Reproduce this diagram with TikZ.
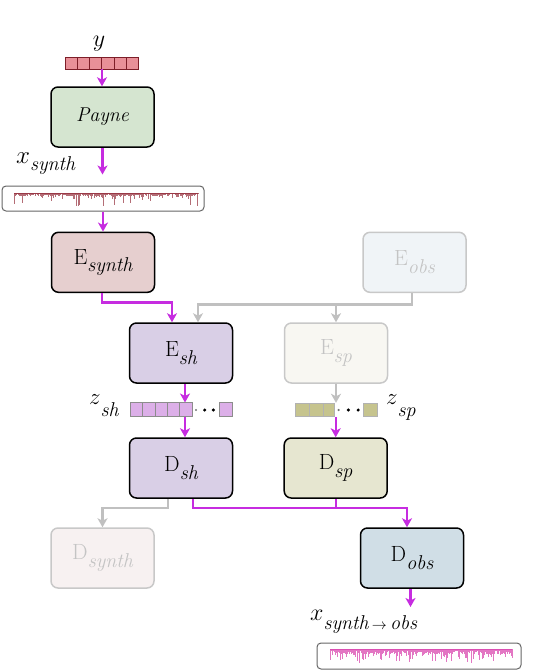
\documentclass[tikz,border=0pt]{standalone}
\usepackage{fix-cm}
\usepackage{fontspec}
\usetikzlibrary{arrows.meta,calc}
\definecolor{mag}{RGB}{198,44,224}
\definecolor{gline}{RGB}{192,192,192}
\definecolor{fadeline}{RGB}{200,200,200}
\definecolor{fadetext}{RGB}{196,196,196}
\definecolor{paynec}{RGB}{213,229,208}
\definecolor{esynthc}{RGB}{230,207,207}
\definecolor{shc}{RGB}{217,207,230}
\definecolor{dspc}{RGB}{230,230,208}
\definecolor{dobsc}{RGB}{208,222,230}
\definecolor{eobsc}{RGB}{240,244,247}
\definecolor{espc}{RGB}{248,247,242}
\definecolor{dsynthc}{RGB}{247,241,241}
\definecolor{ycellc}{RGB}{232,144,152}
\definecolor{ycelll}{RGB}{125,30,40}
\definecolor{zshc}{RGB}{220,175,232}
\definecolor{zspc}{RGB}{198,196,142}
\definecolor{spec1c}{RGB}{140,30,45}
\definecolor{spec2c}{RGB}{215,60,170}
\newcommand{\boxlab}[2]{#1\raisebox{-7.5pt}{\fontsize{20}{20}\selectfont\itshape #2}}
\newcommand{\varlab}[4]{{\fontsize{#1}{#1}\selectfont$#2$}\raisebox{-#4pt}{\fontsize{20}{20}\selectfont\itshape #3}}
\begin{document}
\begin{tikzpicture}[x=1pt,y=-1pt,
  box/.style={draw=black, line width=1.5pt, rounded corners=7pt, minimum width=103pt, minimum height=60pt, inner sep=0pt, font=\fontsize{22}{24}\selectfont},
  faded/.style={box, draw=fadeline, text=fadetext},
  tip/.style={-{Stealth[length=9pt,width=10pt,inset=2.5pt]}},
  marrow/.style={draw=mag, line width=2.2pt, tip},
  garrow/.style={draw=gline, line width=2.2pt, tip},
  mline/.style={draw=mag, line width=2.2pt},
  vec/.style={inner sep=0pt, outer sep=0pt},
  ycell/.style={draw=ycelll, fill=ycellc, line width=1pt},
  zshcell/.style={draw=black!45, fill=zshc, line width=0.6pt},
  zspcell/.style={draw=black!30, fill=zspc, line width=0.6pt},
  specbox/.style={draw=black!60, line width=1pt, rounded corners=4pt, minimum width=202pt, minimum height=25pt, inner sep=0pt},
  s1/.style={draw=spec1c, line width=0.45pt, opacity=0.65},
  s2/.style={draw=spec2c, line width=0.45pt, opacity=0.7},
  lab/.style={anchor=base west, inner sep=0pt}
]
\useasboundingbox (0,0) rectangle (556,670);

% y input vector
\node[vec, minimum width=74pt, minimum height=12pt] (yvec) at (102,63.3) {};
\foreach \k in {0,...,5} \draw[ycell] (65+\k*12.33,57.3) rectangle ++(12.33,12);
\node[anchor=base] (ylab) at (99,46) {\fontsize{24}{24}\selectfont$y$};

% Payne
\node[box, fill=paynec] (payne) at (102.5,117) {\fontsize{20}{24}\selectfont\textit{Payne}};
\node[lab] (xsynlab) at (16,163) {\varlab{25}{x}{synth}{7}};

% synthetic spectrum
\node[specbox] (spec1) at (103,198.5) {};
\pgfmathsetseed{11}
\draw[s1] (14,193) -- (198,193);
\foreach \i in {0,...,184}{
  \pgfmathsetmacro{\len}{1+2.5*rnd+12*rnd^6}
  \draw[s1] (14+\i,193) -- ++(0,\len);
}

% encoders
\node[box, fill=esynthc] (esynth) at (103,262.3) {\boxlab{E}{synth}};
\node[faded, fill=eobsc] (eobs) at (414.5,262.3) {\boxlab{E}{obs}};
\node[box, fill=shc] (esh) at (181,353) {\boxlab{E}{sh}};
\node[faded, fill=espc] (esp) at (336,353) {\boxlab{E}{sp}};

% latent vectors
\node[vec, minimum width=103pt, minimum height=14pt] (zsh) at (181.5,409.5) {};
\foreach \k in {0,...,4} \draw[zshcell] (130+\k*12.4,402.5) rectangle ++(12.4,14);
\draw[zshcell] (219,402.5) rectangle (232.5,416.5);
\fill[black!55] (196,410) circle (1.2pt);
\fill[black] (204.7,410) circle (1.7pt) (213.4,410) circle (1.7pt);
\node[lab] (zshlab) at (89,404) {\varlab{23}{z}{sh}{12}};

\node[vec, minimum width=82pt, minimum height=14pt] (zsp) at (336,409.8) {};
\draw[zspcell] (295,403) rectangle (309.3,416.7);
\draw[zspcell] (309.3,403) rectangle (323.3,416.7);
\draw[zspcell] (323.3,403) rectangle (334,416.7);
\draw[zspcell] (363.3,403) rectangle (377.3,416.7);
\fill[black!55] (338.6,410) circle (1.2pt);
\fill[black] (348.4,410) circle (1.7pt) (358.2,410) circle (1.7pt);
\node[lab] (zsplab) at (386,404) {\varlab{23}{z}{sp}{12}};

% decoders
\node[box, fill=shc] (dsh) at (181,468) {\boxlab{D}{sh}};
\node[box, fill=dspc] (dsp) at (335.7,468) {\boxlab{D}{sp}};
\node[faded, fill=dsynthc] (dsynth) at (102.5,558) {\boxlab{D}{synth}};
\node[box, fill=dobsc] (dobs) at (412,558) {\boxlab{D}{obs}};

% output
\node[lab] (xoutlab) at (310,620) {\varlab{24}{x}{synth\,{\fontsize{15}{15}\selectfont$\rightarrow$}\,obs}{9}};
\coordinate (xoutin) at (410.5,607);
\node[specbox, minimum width=204pt, minimum height=26pt] (spec2) at (419,656) {};
\pgfmathsetseed{5}
\draw[s2] (330,649) -- (512,649);
\foreach \i in {0,...,182}{
  \pgfmathsetmacro{\len}{1.5+4*rnd+10*rnd^4}
  \draw[s2] (330+\i,649) -- ++(0,\len);
}

% connectors
\draw[marrow] (yvec.south) -- (yvec.south |- payne.north);
\draw[marrow, shorten >=11pt] (payne.south) -- (payne.south |- spec1.north);
\draw[marrow] (spec1.south) -- (spec1.south |- esynth.north);
\coordinate (es1) at ($(esynth.south)+(-1,0)$);
\coordinate (esh1) at ($(esh.north)+(-9,0)$);
\draw[marrow] (es1) -- ++(0,9.5) -| (esh1);
\coordinate (eo1) at ($(eobs.south)+(-2.5,0)$);
\coordinate (gbus) at ($(eobs.south)+(-2.5,11.5)$);
\coordinate (esh2) at ($(esh.north)+(17,0)$);
\draw[garrow] (eo1) -- (gbus) -| (esh2);
\draw[garrow] (esp.north |- gbus) -- (esp.north);
\coordinate (shout) at ($(esh.south)+(4,0)$);
\coordinate (shin) at ($(dsh.north)+(4,0)$);
\draw[marrow] (shout) -- (shout |- zsh.north);
\draw[marrow] (shin |- zsh.south) -- (shin);
\draw[garrow] (esp.south) -- (esp.south |- zsp.north);
\draw[marrow] (dsp.north |- zsp.south) -- (dsp.north);
\coordinate (dsh1) at ($(dsh.south)+(-13,0)$);
\coordinate (dsh2) at ($(dsh.south)+(12,0)$);
\coordinate (mbus) at ($(dsh.south)+(12,9)$);
\coordinate (dobs1) at ($(dobs.north)+(-5,0)$);
\draw[garrow] (dsh1) -- ++(0,9) -| (dsynth.north);
\draw[marrow] (dsh2) -- (mbus) -| (dobs1);
\draw[mline] (dsp.south) -- (dsp.south |- mbus);
\draw[marrow] (dobs.south -| xoutin) -- (xoutin);
\end{tikzpicture}
\end{document}
